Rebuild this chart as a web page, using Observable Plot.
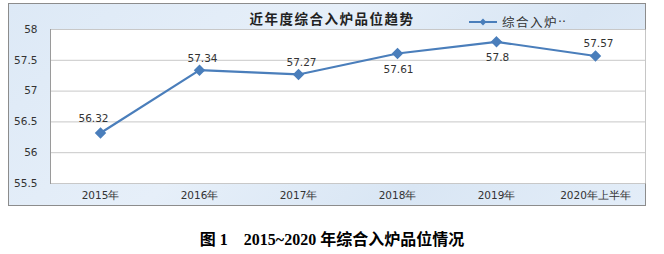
<!DOCTYPE html>
<html>
<head>
<meta charset="utf-8">
<script src="https://cdn.jsdelivr.net/npm/d3@7"></script>
<script src="https://cdn.jsdelivr.net/npm/@observablehq/plot@0.6"></script>
<style>
  html, body { margin: 0; padding: 0; background: #fff; }
  #wrap { position: relative; width: 664px; height: 254px; overflow: hidden; }
  #bg { position: absolute; left: 8px; top: 3px; width: 636px; height: 201px;
        background: linear-gradient(135deg, #dde9f6 0%, #e6eff9 40%, #d9e6f4 70%, #e3edf8 100%);
        border: 1px solid #8c8c8c; }
  #chart { position: absolute; left: 0; top: 0; }
  #title { position: absolute; left: 0; width: 664px; top: 8px; text-align: center;
           font-family: "Noto Sans CJK SC", sans-serif; font-weight: bold; font-size: 13.5px;
           color: #222; letter-spacing: 1.5px; }
  #legend { position: absolute; left: 469px; top: 12px; font-family: "Noto Sans CJK SC", sans-serif;
            font-size: 12.5px; color: #333; display: flex; align-items: center; letter-spacing: 1.5px; }
  #legend .dots { font-family: "DejaVu Sans", sans-serif; letter-spacing: 0px; }
  #caption { position: absolute; left: 0; width: 664px; top: 226px; text-align: center;
             font-family: "Liberation Serif", "Times New Roman", "Noto Sans CJK SC", serif;
             font-weight: bold; font-size: 16px; color: #000; white-space: pre; }
</style>
</head>
<body>
<div id="wrap">
  <div id="bg"></div>
  <div id="chart"></div>
  <div id="title"></div>
  <div id="legend"></div>
  <div id="caption"></div>
</div>
<script>
const years = ["2015年", "2016年", "2017年", "2018年", "2019年", "2020年上半年"];
const values = [56.32, 57.34, 57.27, 57.61, 57.8, 57.57];
const yTicks = [55.5, 56, 56.5, 57, 57.5, 58];
const seriesName = "综合入炉品位";
const legendLabel = "综合入炉";
const legendEllipsis = "··";
const chartTitle = "近年度综合入炉品位趋势";
const captionText = "图 1    2015~2020 年综合入炉品位情况";

const data = years.map((y, i) => ({year: y, value: values[i], series: seriesName}));
const belowLabels = new Set(["2018年", "2019年"]);
const blue = "#4a7ebb";

const plot = Plot.plot({
  width: 664,
  height: 210,
  marginLeft: 50,
  marginRight: 19,
  marginTop: 29,
  marginBottom: 27,
  style: {background: "transparent", fontFamily: "DejaVu Sans, sans-serif"},
  x: {type: "point", domain: years, padding: 0.5, label: null},
  y: {domain: [55.5, 58], ticks: yTicks, label: null},
  marks: [
    Plot.frame({fill: "white", stroke: null}),
    Plot.gridY(yTicks, {stroke: "#c8c8c8", strokeOpacity: 1, strokeWidth: 1}),
    Plot.frame({anchor: "left", stroke: "#9a9a9a"}),
    Plot.axisY(yTicks, {tickSize: 0, tickPadding: 13, fontSize: 10.5, fill: "#333",
      tickFormat: d => String(d)}),
    Plot.axisX({tickSize: 0, tickPadding: 8, fontSize: 10.5, fill: "#333"}),
    Plot.line(data, {x: "year", y: "value", stroke: blue, strokeWidth: 2.2}),
    Plot.dot(data, {x: "year", y: "value", symbol: "diamond2", r: 4.2, fill: blue, stroke: blue}),
    Plot.text(data.filter(d => d.year === years[0]), {x: "year", y: "value", text: d => String(d.value),
      dx: -7, dy: -14, fontSize: 10.5, fill: "#333"}),
    Plot.text(data.filter(d => d.year !== years[0] && !belowLabels.has(d.year)), {x: "year", y: "value",
      text: d => String(d.value), dx: 3, dy: -12, fontSize: 10.5, fill: "#333"}),
    Plot.text(data.filter(d => belowLabels.has(d.year)), {x: "year", y: "value",
      text: d => String(d.value), dx: 1, dy: 16, fontSize: 10.5, fill: "#333"})
  ]
});
document.getElementById("chart").appendChild(plot);

document.getElementById("title").textContent = chartTitle;
document.getElementById("caption").textContent = captionText;

// legend swatch
const leg = document.getElementById("legend");
const sw = d3.create("svg").attr("width", 30).attr("height", 12);
sw.append("line").attr("x1", 0).attr("x2", 28).attr("y1", 6).attr("y2", 6)
  .attr("stroke", blue).attr("stroke-width", 2);
sw.append("path").attr("d", d3.symbol(d3.symbolDiamond2, 30)()).attr("transform", "translate(14,6)")
  .attr("fill", blue);
leg.appendChild(sw.node());
const lt = document.createElement("span");
lt.textContent = legendLabel;
lt.style.marginLeft = "3px";
leg.appendChild(lt);
const ld = document.createElement("span");
ld.className = "dots";
ld.textContent = legendEllipsis;
leg.appendChild(ld);
</script>
</body>
</html>
